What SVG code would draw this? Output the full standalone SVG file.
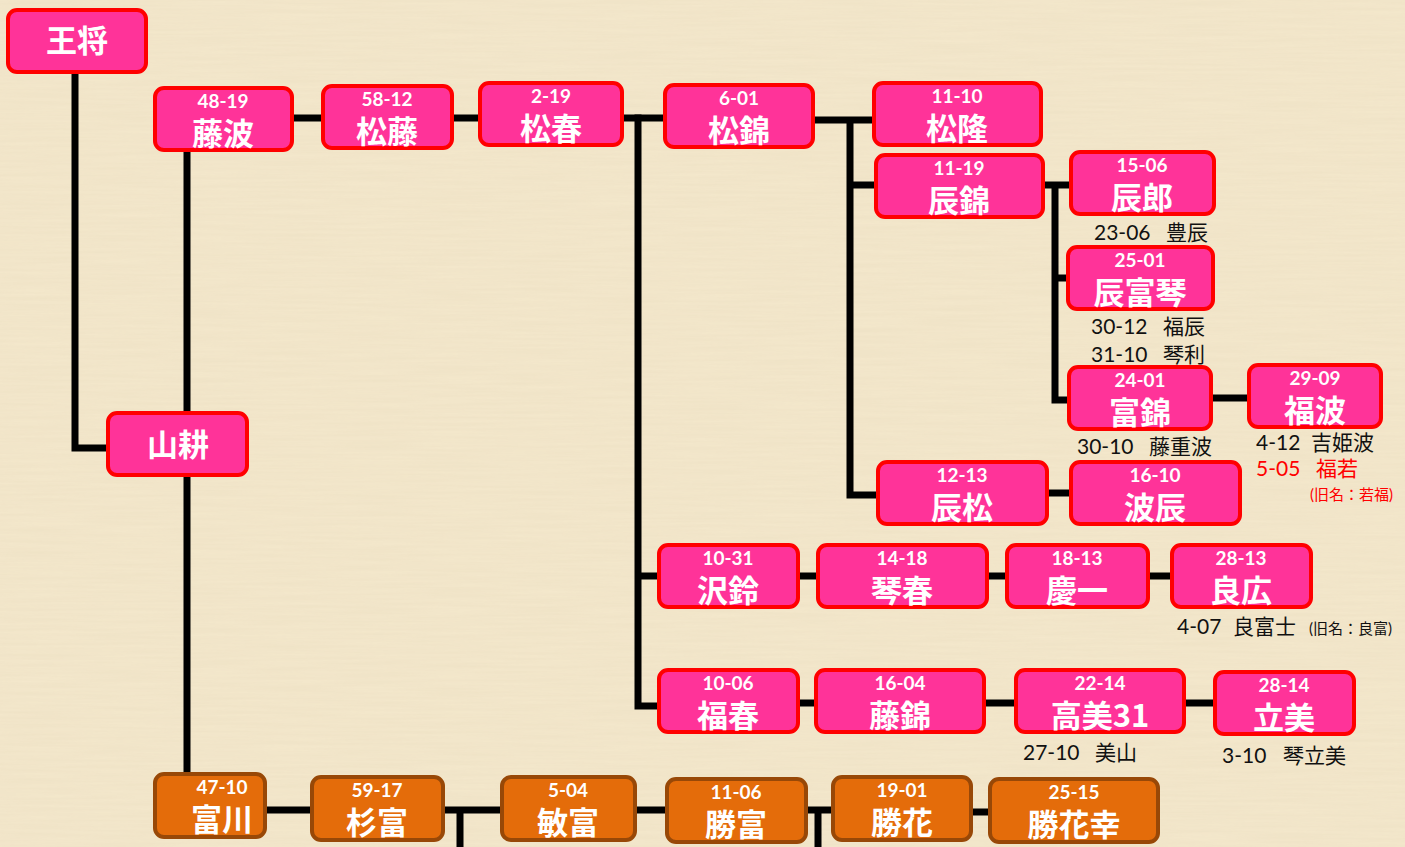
<svg xmlns="http://www.w3.org/2000/svg" width="1405" height="847" viewBox="0 0 1405 847">
<style>
.p{fill:#FF3399;stroke:#FF0000;stroke-width:4}
.o{fill:#E46C0A;stroke:#984807;stroke-width:4}
.n{font-family:"Lato","Noto Sans CJK JP",sans-serif;font-weight:bold;font-size:19px;fill:#fff;text-anchor:middle}
.m{font-family:"Noto Sans CJK JP",sans-serif;font-weight:bold;font-size:31px;fill:#fff;text-anchor:middle}
.a{font-family:"Lato","Noto Sans CJK JP",sans-serif;font-size:21px;fill:#111}
.r{fill:#FF0000}
.s{font-size:15px}
.c{stroke:#000;stroke-width:7;fill:none;stroke-linecap:square}
</style>
<defs>
<filter id="tex" x="0" y="0" width="100%" height="100%">
<feTurbulence type="fractalNoise" baseFrequency="0.012 0.35" numOctaves="2" seed="3"/>
<feColorMatrix values="0 0 0 0 0.55  0 0 0 0 0.45  0 0 0 0 0.3  0 0 0 0.18 0"/>
</filter>
</defs>
<rect width="1405" height="847" fill="#F4E8CC"/>
<rect width="1405" height="847" filter="url(#tex)" opacity="0.6"/>
<g id="connectors" class="c">
<path d="M75 72V448H108"/>
<path d="M187 150V774"/>
<path d="M292 118H323M452 118H480M622 118H665"/>
<path d="M638 118V706M638 576H659M638 706H659"/>
<path d="M813 120H874M850 120V495M850 185H876M850 495H878"/>
<path d="M1043 185H1071M1055 185V400H1069M1055 278H1068"/>
<path d="M1211 398H1249"/>
<path d="M1047 493H1071"/>
<path d="M798 576H818M987 576H1007M1148 576H1172"/>
<path d="M798 703H816M984 703H1016M1184 703H1215"/>
<path d="M265 810H312M443 810H502M460 810V847M635 810H667M806 810H833M818 810V847M971 812H990"/>
</g>
<g id="n-oushou"><rect class="p" x="8" y="10" width="138" height="62" rx="9"/><text class="m" x="77" y="52">王将</text></g>
<g id="n-fujinami"><rect class="p" x="155" y="88" width="137" height="62" rx="9"/><text class="n" x="223" y="108">48-19</text><text class="m" x="223" y="145">藤波</text></g>
<g id="n-matsufuji"><rect class="p" x="323" y="86" width="129" height="62" rx="9"/><text class="n" x="387" y="106">58-12</text><text class="m" x="387" y="143">松藤</text></g>
<g id="n-matsuharu"><rect class="p" x="480" y="83" width="142" height="62" rx="9"/><text class="n" x="551" y="103">2-19</text><text class="m" x="551" y="140">松春</text></g>
<g id="n-matsunishiki"><rect class="p" x="665" y="85" width="148" height="62" rx="9"/><text class="n" x="739" y="105">6-01</text><text class="m" x="739" y="142">松錦</text></g>
<g id="n-matsutaka"><rect class="p" x="874" y="83" width="167" height="62" rx="9"/><text class="n" x="957" y="103">11-10</text><text class="m" x="957" y="140">松隆</text></g>
<g id="n-tatsunishiki"><rect class="p" x="876" y="155" width="167" height="62" rx="9"/><text class="n" x="959" y="175">11-19</text><text class="m" x="959" y="212">辰錦</text></g>
<g id="n-tatsurou"><rect class="p" x="1071" y="152" width="143" height="62" rx="9"/><text class="n" x="1142" y="172">15-06</text><text class="m" x="1142" y="209">辰郎</text></g>
<g id="n-tatsufukoto"><rect class="p" x="1068" y="247" width="145" height="62" rx="9"/><text class="n" x="1140" y="267">25-01</text><text class="m" x="1140" y="304">辰富琴</text></g>
<g id="n-tominishiki"><rect class="p" x="1069" y="367" width="142" height="62" rx="9"/><text class="n" x="1140" y="387">24-01</text><text class="m" x="1140" y="424">富錦</text></g>
<g id="n-fukunami"><rect class="p" x="1249" y="365" width="132" height="62" rx="9"/><text class="n" x="1315" y="385">29-09</text><text class="m" x="1315" y="422">福波</text></g>
<g id="n-tatsumatsu"><rect class="p" x="878" y="462" width="169" height="62" rx="9"/><text class="n" x="962" y="482">12-13</text><text class="m" x="962" y="519">辰松</text></g>
<g id="n-namitatsu"><rect class="p" x="1071" y="462" width="169" height="62" rx="9"/><text class="n" x="1155" y="482">16-10</text><text class="m" x="1155" y="519">波辰</text></g>
<g id="n-sawasuzu"><rect class="p" x="659" y="545" width="139" height="62" rx="9"/><text class="n" x="728" y="565">10-31</text><text class="m" x="728" y="602">沢鈴</text></g>
<g id="n-kotoharu"><rect class="p" x="818" y="545" width="169" height="62" rx="9"/><text class="n" x="902" y="565">14-18</text><text class="m" x="902" y="602">琴春</text></g>
<g id="n-keiichi"><rect class="p" x="1007" y="545" width="141" height="62" rx="9"/><text class="n" x="1077" y="565">18-13</text><text class="m" x="1077" y="602">慶一</text></g>
<g id="n-yoshihiro"><rect class="p" x="1172" y="545" width="139" height="62" rx="9"/><text class="n" x="1241" y="565">28-13</text><text class="m" x="1241" y="602">良広</text></g>
<g id="n-fukuharu"><rect class="p" x="659" y="670" width="139" height="62" rx="9"/><text class="n" x="728" y="690">10-06</text><text class="m" x="728" y="727">福春</text></g>
<g id="n-fujinishiki"><rect class="p" x="816" y="670" width="168" height="62" rx="9"/><text class="n" x="900" y="690">16-04</text><text class="m" x="900" y="727">藤錦</text></g>
<g id="n-takami31"><rect class="p" x="1016" y="670" width="168" height="62" rx="9"/><text class="n" x="1100" y="690">22-14</text><text class="m" x="1100" y="727">高美31</text></g>
<g id="n-tatsumi"><rect class="p" x="1215" y="672" width="139" height="62" rx="9"/><text class="n" x="1284" y="692">28-14</text><text class="m" x="1284" y="729">立美</text></g>
<g id="n-yamakou"><rect class="p" x="108" y="413" width="139" height="62" rx="9"/><text class="m" x="178" y="456">山耕</text></g>
<g id="n-tomikawa"><rect class="o" x="155" y="774" width="110" height="63" rx="9"/><text class="n" x="222" y="794">47-10</text><text class="m" x="222" y="831">富川</text></g>
<g id="n-sugitomi"><rect class="o" x="312" y="777" width="131" height="63" rx="9"/><text class="n" x="377" y="797">59-17</text><text class="m" x="377" y="834">杉富</text></g>
<g id="n-toshitomi"><rect class="o" x="502" y="777" width="133" height="63" rx="9"/><text class="n" x="568" y="797">5-04</text><text class="m" x="568" y="834">敏富</text></g>
<g id="n-katsutomi"><rect class="o" x="667" y="779" width="139" height="63" rx="9"/><text class="n" x="736" y="799">11-06</text><text class="m" x="736" y="836">勝富</text></g>
<g id="n-katsuhana"><rect class="o" x="833" y="777" width="138" height="63" rx="9"/><text class="n" x="902" y="797">19-01</text><text class="m" x="902" y="834">勝花</text></g>
<g id="n-katsuhanayuki"><rect class="o" x="990" y="779" width="168" height="63" rx="9"/><text class="n" x="1074" y="799">25-15</text><text class="m" x="1074" y="836">勝花幸</text></g>
<g id="notes">
<text class="a" x="1094" y="240">23-06<tspan x="1166">豊辰</tspan></text>
<text class="a" x="1091" y="334">30-12<tspan x="1163">福辰</tspan></text>
<text class="a" x="1091" y="362">31-10<tspan x="1163">琴利</tspan></text>
<text class="a" x="1077" y="454">30-10<tspan x="1149">藤重波</tspan></text>
<text class="a" x="1256" y="450">4-12<tspan x="1311">吉姫波</tspan></text>
<text class="a r" x="1256" y="476">5-05<tspan x="1316">福若</tspan></text>
<text class="a r s" x="1310" y="500">(旧名：若福)</text>
<text class="a" x="1177" y="634">4-07<tspan x="1233">良富士</tspan><tspan class="s" x="1309">(旧名：良富)</tspan></text>
<text class="a" x="1023" y="760">27-10<tspan x="1095">美山</tspan></text>
<text class="a" x="1222" y="763">3-10<tspan x="1283">琴立美</tspan></text>
</g>
</svg>
